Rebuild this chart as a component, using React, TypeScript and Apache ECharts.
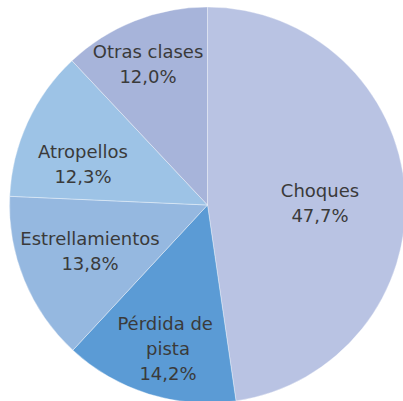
import React, { useEffect, useRef } from "react";
import * as echarts from "echarts";

const categories = ["Choques", "Pérdida de pista", "Estrellamientos", "Atropellos", "Otras clases"];
const values = [47.7, 14.2, 13.8, 12.3, 12.0];
const colors = ["#b9c3e3", "#5b9bd5", "#95b8e0", "#9dc3e6", "#a7b4da"];
// label centres (px) for each slice, as placed in the reference
const labelCentres: [number, number][] = [
  [320, 203],
  [168, 348],
  [90, 251],
  [83, 164],
  [148, 64],
];

export default function App() {
  const ref = useRef<HTMLDivElement>(null);
  useEffect(() => {
    if (!ref.current) return;
    const chart = echarts.init(ref.current, null, { renderer: "svg" });
    chart.setOption({
      animation: false,
      backgroundColor: "#ffffff",
      series: [
        {
          type: "pie",
          center: [207.5, 205],
          radius: 198,
          startAngle: 90,
          clockwise: true,
          avoidLabelOverlap: false,
          itemStyle: { borderColor: "rgba(255,255,255,0.6)", borderWidth: 0.6 },
          label: {
            show: true,
            position: "inside",
            color: "#3a3a3a",
            fontFamily: "DejaVu Sans",
            fontSize: 18,
            lineHeight: 25,
            align: "center",
            formatter: (p: any) =>
              `${p.name}\n${Number(p.value).toFixed(1).replace(".", ",")}%`,
          },
          labelLine: { show: false },
          labelLayout: (params: any) => {
            const c = labelCentres[params.dataIndex];
            return { x: c[0], y: c[1], align: "center", verticalAlign: "middle" };
          },
          emphasis: { disabled: true },
          data: categories.map((name, i) => ({
            name,
            value: values[i],
            itemStyle: { color: colors[i] },
            ...(name === "Pérdida de pista"
              ? { label: { width: 112, overflow: "break" } }
              : {}),
          })),
        },
      ],
    });
    return () => chart.dispose();
  }, []);
  return (
    <div
      ref={ref}
      style={{ position: "fixed", left: 0, top: 0, width: 403, height: 401 }}
    />
  );
}
